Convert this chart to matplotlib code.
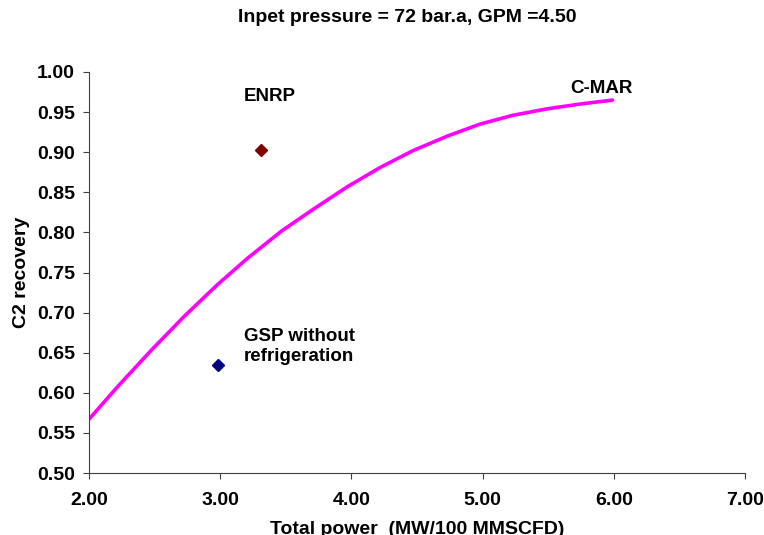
import matplotlib
matplotlib.use("Agg")
import matplotlib.pyplot as plt

plt.rcParams['font.family'] = ['Liberation Sans', 'DejaVu Sans']
plt.rcParams['font.weight'] = 'bold'
plt.rcParams['axes.labelweight'] = 'bold'

# C-MAR curve
cmar_x = [2.00, 2.22, 2.48, 2.73, 2.98, 3.21, 3.47, 3.72, 3.97, 4.22, 4.47, 4.73, 4.98, 5.23, 5.49, 5.74, 5.99]
cmar_y = [0.567, 0.608, 0.654, 0.696, 0.735, 0.768, 0.802, 0.830, 0.857, 0.881, 0.902, 0.920, 0.935, 0.946, 0.954, 0.960, 0.965]

enrp_x, enrp_y = [3.31], [0.903]
gsp_x, gsp_y = [2.98], [0.635]

fig = plt.figure(figsize=(7.64, 5.35), dpi=100)
ax = fig.add_axes([89/764, 1-473/535, 656/764, 401/535])

ax.plot(cmar_x, cmar_y, color='#ff00ff', lw=2.6, solid_capstyle='round', solid_joinstyle='round')
ax.plot(enrp_x, enrp_y, ls='none', marker='D', ms=6.5, color='#800000')
ax.plot(gsp_x, gsp_y, ls='none', marker='D', ms=6.5, color='#000080')

ax.text(3.18, 0.969, 'ENRP', fontsize=13.5, va='center')
ax.text(5.67, 0.980, 'C-MAR', fontsize=13.5, va='center')
ax.text(3.18, 0.658, 'GSP without\nrefrigeration', fontsize=13.5, va='center', linespacing=1.25)

ax.set_xlim(2, 7)
ax.set_ylim(0.5, 1.0)
ax.set_xticks([2, 3, 4, 5, 6, 7])
ax.set_yticks([0.50, 0.55, 0.60, 0.65, 0.70, 0.75, 0.80, 0.85, 0.90, 0.95, 1.00])
ax.set_xticklabels([f'{v:.2f}' for v in ax.get_xticks()])
ax.set_yticklabels([f'{v:.2f}' for v in ax.get_yticks()])
ax.tick_params(direction='out', length=4, width=0.8, labelsize=14, pad=6, color='#404040')
ax.tick_params(axis='x', pad=10)
for s in ['top', 'right']:
    ax.spines[s].set_visible(False)
for s in ['left', 'bottom']:
    ax.spines[s].set_color('#404040')
    ax.spines[s].set_linewidth(0.8)

ax.set_xlabel('Total power  (MW/100 MMSCFD)', fontsize=14, labelpad=8)
ax.set_ylabel('C2 recovery', fontsize=14, labelpad=5)
fig.text(407/764, 1-17/535, 'Inpet pressure = 72 bar.a, GPM =4.50', ha='center', va='center', fontsize=14)

fig.savefig('out.png', dpi=100)
